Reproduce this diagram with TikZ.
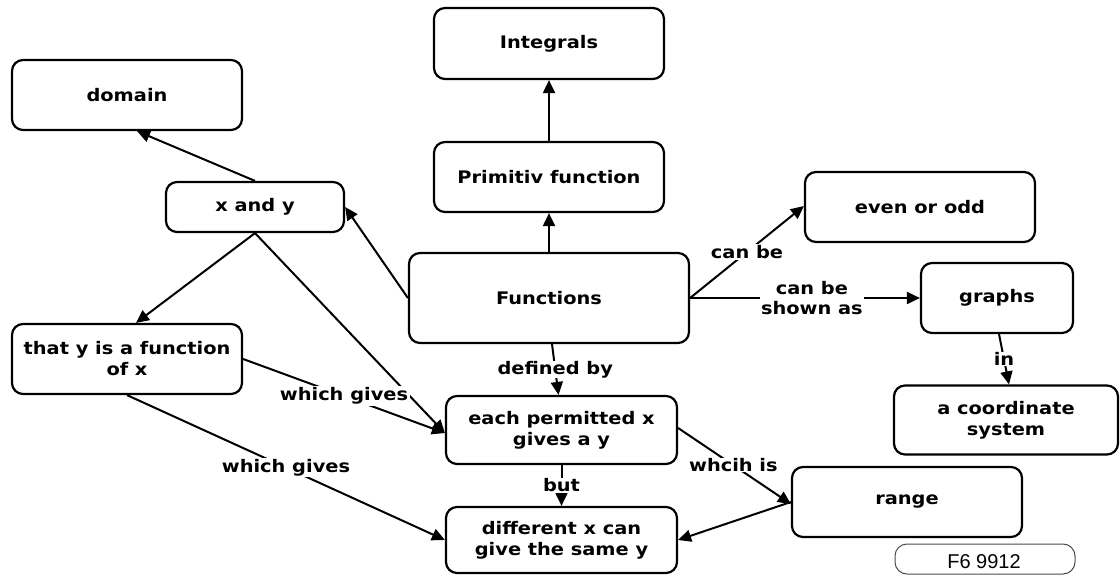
\documentclass[tikz,border=0pt]{standalone}
\usepackage{fontspec}
\newfontfamily\cmfont{DejaVu Sans}[FakeStretch=1.12]
\newfontfamily\tagfont{Liberation Sans}
\usetikzlibrary{arrows.meta}
\begin{document}
\begin{tikzpicture}[x=1pt,y=-1pt,
  box/.style={draw=black, line width=2.2pt, rounded corners=11pt, fill=white,
    align=center, inner sep=0pt, font=\cmfont\bfseries\fontsize{17.3}{21}\selectfont},
  lbl/.style={fill=white, inner sep=1.5pt, align=center,
    font=\cmfont\bfseries\fontsize{17.3}{19.5}\selectfont},
  arr/.style={line width=2pt, -{Triangle[length=13pt,width=12pt]}},
  tagbox/.style={draw=black!70, line width=1pt, rounded corners=12pt, inner sep=0pt},
  tagtxt/.style={font=\tagfont\fontsize{20}{22}\selectfont, inner sep=0pt}]
\useasboundingbox (0,0) rectangle (1120,575);
% nodes
\node[box, minimum width=230pt, minimum height=71pt] (integ) at (549,43.5) {Integrals};
\node[box, minimum width=230pt, minimum height=70pt] (domain) at (127,95) {domain};
\node[box, minimum width=178pt, minimum height=50pt] (xy) at (255,207) {x and y};
\node[box, minimum width=230pt, minimum height=70pt] (prim) at (549,177) {Primitiv function};
\node[box, minimum width=230pt, minimum height=70pt] (even) at (920,207) {even or odd};
\node[box, minimum width=280pt, minimum height=90pt] (func) at (549,298) {Functions};
\node[box, minimum width=152pt, minimum height=70pt] (graphs) at (997,298) {graphs};
\node[box, minimum width=224pt, minimum height=69pt] (coord) at (1006,420) {a coordinate\\system};
\node[box, minimum width=230pt, minimum height=70pt] (range) at (907,502) {range};
\node[box, minimum width=230pt, minimum height=70pt] (thaty) at (127,359) {that y is a function\\of x};
\node[box, minimum width=231pt, minimum height=68pt] (each) at (561.5,430) {each permitted x\\gives a y};
\node[box, minimum width=231pt, minimum height=66pt] (diff) at (561.5,540) {different x can\\give the same y};
\node[tagbox, minimum width=180pt, minimum height=30pt] (tag) at (985,559) {};
\node[tagtxt] (tagtext) at (984,562) {F6 9912};
% connectors
\draw[arr] (prim.north) -- (integ.south);
\draw[arr] (func.north) -- (prim.south);
\draw[arr] (func.west) -- (xy.east);
\draw[arr] (xy.north) -- ([xshift=10pt]domain.south);
\draw[arr] (xy.south) -- ([xshift=9pt]thaty.north);
\draw[arr] (xy.south) -- ([yshift=-3pt]each.west);
\draw[arr] (thaty.east) -- node[lbl, pos=0.5] {which gives} ([yshift=-3pt]each.west);
\draw[arr] (thaty.south) -- node[lbl, pos=0.5] {which gives} (diff.west);
\draw[arr] (func.east) -- node[lbl, pos=0.5] {can be} ([yshift=1pt]even.west);
\draw[arr] (func.east) -- node[lbl, pos=0.53] {can be\\shown as} (graphs.west);
\draw[arr] ([xshift=2pt]graphs.south) -- node[lbl, pos=0.5, inner sep=0.5pt] {in} ([xshift=3pt]coord.north);
\draw[arr] ([xshift=3pt]func.south) -- node[lbl, pos=0.5, inner sep=0.5pt] {defined by} ([xshift=-3pt]each.north);
\draw[arr] ([yshift=2pt]each.east) -- node[lbl, pos=0.49, inner sep=0.5pt] {whcih is} ([yshift=-2pt]range.west);
\draw[arr] (range.west) -- (diff.east);
\draw[arr] (each.south) -- node[lbl, pos=0.5, inner sep=0.5pt] {but} (diff.north);
\end{tikzpicture}
\end{document}
